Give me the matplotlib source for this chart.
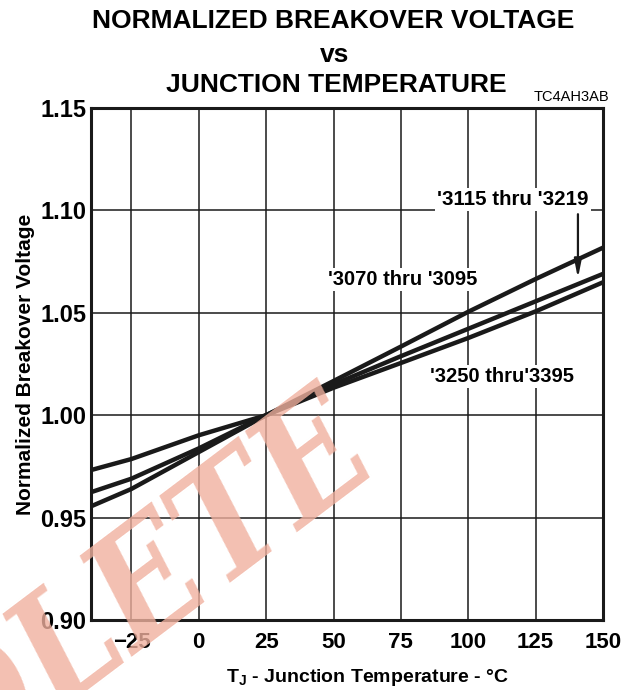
import matplotlib
matplotlib.use("Agg")
import matplotlib.pyplot as plt

# ---- data ----
temps = [-40, -25, 0, 25, 50, 75, 100, 125, 150]
v_3070 = [0.9555, 0.9640, 0.9820, 1.0000, 1.0167, 1.0335, 1.0505, 1.0665, 1.0818]
v_3115 = [0.9624, 0.9690, 0.9838, 1.0000, 1.0150, 1.0288, 1.0422, 1.0556, 1.0690]
v_3250 = [0.9732, 0.9786, 0.9902, 1.0000, 1.0134, 1.0255, 1.0377, 1.0507, 1.0649]
xticks = [-25, 0, 25, 50, 75, 100, 125, 150]
yticks = [0.90, 0.95, 1.00, 1.05, 1.10, 1.15]
ytick_labels = ["0.90", "0.95", "1.00", "1.05", "1.10", "1.15"]
series_labels = ["'3070 thru '3095", "'3115 thru '3219", "'3250 thru'3395"]

plt.rcParams['font.family'] = ['Liberation Sans', 'DejaVu Sans']

fig = plt.figure(figsize=(6.3, 6.9), dpi=100)
ax = fig.add_axes([91/630, 1-620/690, (603-91)/630, (620-108)/690])

for v in (v_3070, v_3115, v_3250):
    ax.plot(temps, v, color='#1a1a1a', lw=3.2, solid_capstyle='butt', zorder=3)

ax.set_xlim(-40, 150)
ax.set_ylim(0.90, 1.15)
ax.set_xticks(xticks)
ax.set_yticks(yticks)
ax.set_yticklabels(ytick_labels)
ax.tick_params(length=0, labelsize=16, pad=4)
ax.tick_params(axis='y', labelsize=17, pad=3.5)
ax.tick_params(axis='x', pad=9)
for lab in ax.get_xticklabels() + ax.get_yticklabels():
    lab.set_fontweight('bold')
ax.grid(True, color='#1a1a1a', lw=1.1)
for s in ax.spines.values():
    s.set_linewidth(2.2)
    s.set_color('#1a1a1a')

ax.set_ylabel("Normalized Breakover Voltage", fontsize=15, fontweight='bold')
ax.yaxis.set_label_coords((35 - 91) / 512, 0.5)
ax.set_xlabel(r"T$_\mathregular{J}$ - Junction Temperature - °C", fontsize=14,
              fontweight='bold', labelpad=10, x=(367-91)/512)

# series labels
box = dict(facecolor='white', edgecolor='none', pad=1.5)
ax.text(75.8, 1.0664, series_labels[0], fontsize=14.5, fontweight='bold', ha='center', va='center',
        bbox=box, zorder=4)
ax.text(116.5, 1.1055, series_labels[1], fontsize=14.8, fontweight='bold', ha='center', va='center',
        bbox=box, zorder=4)
ax.text(112.5, 1.019, series_labels[2], fontsize=14.5, fontweight='bold', ha='center', va='center',
        bbox=box, zorder=4)
ax.annotate("", xy=(140.7, 1.0655), xytext=(140.7, 1.0995),
            arrowprops=dict(arrowstyle='-|>,head_length=1.1,head_width=0.22', color='#1a1a1a', lw=1.6),
            zorder=5)

# titles
fig.text(333/630, 1-21/690, "NORMALIZED BREAKOVER VOLTAGE", fontsize=19, fontweight='bold',
         ha='center', va='center')
fig.text(335/630, 1-55/690, "vs", fontsize=19, fontweight='bold', ha='center', va='center')
fig.text(336/630, 1-85/690, "JUNCTION TEMPERATURE", fontsize=19, fontweight='bold',
         ha='center', va='center')
fig.text(571/630, 1-97/690, "TC4AH3AB", fontsize=10.5, ha='center', va='center')

# watermark
fig.text(403/630, 1-372/690, "OBSOLETE", fontsize=110, fontweight='bold', fontstyle='italic',
         family=['DejaVu Serif', 'Liberation Serif'], fontstretch='condensed',
         rotation=37, ha='right', va='top',
         color=(0.94, 0.69, 0.62), alpha=0.8, zorder=10)

fig.savefig("out.png", dpi=100)
